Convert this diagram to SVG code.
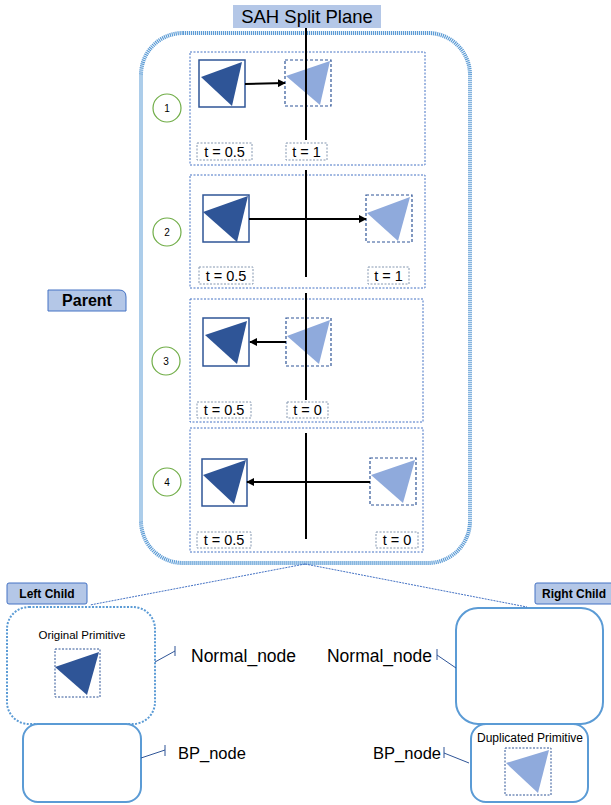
<svg xmlns="http://www.w3.org/2000/svg" width="611" height="805" viewBox="0 0 611 805">
<style>
text{font-family:"Liberation Sans",Arial,sans-serif;fill:#000}
.panel{fill:none;stroke:#4472c4;stroke-width:1;stroke-dasharray:2 1.5}
.dark{fill:#fff;stroke:#2f5597;stroke-width:1.5}
.ghost{fill:#fff;stroke:#2f5597;stroke-width:1.2;stroke-dasharray:3 2}
.dtri{fill:#2f5597}
.ltri{fill:#8faadc}
.tbox{fill:#fff;stroke:#8497b0;stroke-width:1;stroke-dasharray:2 1.5}
.tl{font-size:14.5px;text-anchor:middle}
.plane{stroke:#000;stroke-width:2}
.arr{stroke:#000;stroke-width:2;fill:none;marker-end:url(#ah)}
.num{fill:#fff;stroke:#70ad47;stroke-width:1.2}
.numt{font-size:10px;text-anchor:middle}
.lbl{fill:#b4c7e7;stroke:#4472c4;stroke-width:1}
.call{stroke:#2f5597;stroke-width:1;fill:none}
.box{fill:#fff;stroke:#5b9bd5;stroke-width:2}
</style>
<defs>
<marker id="ah" viewBox="0 0 10 10" refX="9" refY="5" markerWidth="4" markerHeight="4" orient="auto" markerUnits="strokeWidth">
<path d="M0,0 L10,5 L0,10 z" fill="#000"/>
</marker>
</defs>

<g id="parent">
<rect x="141" y="33" width="329" height="530" rx="42" ry="42" fill="#fff" stroke="#5b9bd5" stroke-width="4" stroke-dasharray="1.2 0.8"/>
</g>

<g id="sah-label">
<rect x="233" y="5" width="148" height="23" fill="#b4c7e7"/>
<text x="307" y="23" font-size="18.5" text-anchor="middle">SAH Split Plane</text>
</g>

<g id="parent-label">
<path d="M48,290 H119 Q126,290 126,297 V311 H48 Z" class="lbl"/>
<text x="87" y="306" font-size="16" font-weight="bold" text-anchor="middle">Parent</text>
</g>

<!-- Panel 1 -->
<g id="panel1">
<rect x="190" y="52" width="235" height="113" class="panel"/>
<circle cx="167" cy="108" r="14" class="num"/><text x="167" y="112" class="numt">1</text>
<rect x="199" y="60" width="46" height="47" class="dark"/>
<polygon points="201,77 242,62 232,106" class="dtri"/>
<rect x="285" y="60" width="46" height="46" class="ghost"/>
<polygon points="286,76 330,61 320,105" class="ltri"/>
<rect x="197" y="143" width="55" height="17" class="tbox"/><text x="224.5" y="157" class="tl">t = 0.5</text>
<rect x="286" y="143" width="41" height="17" class="tbox"/><text x="306.5" y="157" class="tl">t = 1</text>
</g>

<!-- Panel 2 -->
<g id="panel2">
<rect x="190" y="175" width="235" height="113" class="panel"/>
<circle cx="167" cy="232" r="14" class="num"/><text x="167" y="236" class="numt">2</text>
<rect x="203" y="195" width="46" height="47" class="dark"/>
<polygon points="203,212 248,196 237,242" class="dtri"/>
<rect x="366" y="195" width="46" height="47" class="ghost"/>
<polygon points="367,213 410,197 398,241" class="ltri"/>
<rect x="199" y="267" width="54" height="17" class="tbox"/><text x="226" y="281" class="tl">t = 0.5</text>
<rect x="368" y="267" width="41" height="17" class="tbox"/><text x="388.5" y="281" class="tl">t = 1</text>
</g>

<!-- Panel 3 -->
<g id="panel3">
<rect x="190" y="299" width="233" height="123" class="panel"/>
<circle cx="166" cy="361" r="14" class="num"/><text x="166" y="365" class="numt">3</text>
<rect x="203" y="318" width="46" height="48" class="dark"/>
<polygon points="205,335 247,321 237,364" class="dtri"/>
<rect x="286" y="318" width="45" height="48" class="ghost"/>
<polygon points="287,336 330,320 319,364" class="ltri"/>
<rect x="197" y="402" width="54" height="16" class="tbox"/><text x="224" y="415" class="tl">t = 0.5</text>
<rect x="287" y="402" width="41" height="16" class="tbox"/><text x="307.5" y="415" class="tl">t = 0</text>
</g>

<!-- Panel 4 -->
<g id="panel4">
<rect x="190" y="428" width="233" height="124" class="panel"/>
<circle cx="167" cy="482" r="14" class="num"/><text x="167" y="486" class="numt">4</text>
<rect x="202" y="459" width="45" height="47" class="dark"/>
<polygon points="203,475 246,460 234,504" class="dtri"/>
<rect x="370" y="458" width="46" height="47" class="ghost"/>
<polygon points="371,475 415,460 403,503" class="ltri"/>
<rect x="197" y="532" width="54" height="16" class="tbox"/><text x="224" y="545" class="tl">t = 0.5</text>
<rect x="376" y="532" width="42" height="16" class="tbox"/><text x="397" y="545" class="tl">t = 0</text>
</g>

<!-- Left child -->
<g id="left-child-label">
<rect x="7" y="583" width="80" height="21" rx="2" class="lbl"/>
<text x="47" y="598" font-size="12" font-weight="bold" text-anchor="middle">Left Child</text>
</g>
<g id="left-normal">
<rect x="7" y="607" width="148" height="117" rx="22" fill="#fff" stroke="#5b9bd5" stroke-width="2" stroke-dasharray="2 1.5"/>
<text x="82" y="639" font-size="11.5" text-anchor="middle">Original Primitive</text>
<rect x="55" y="649" width="45" height="48" fill="#fff" stroke="#2f5597" stroke-width="1" stroke-dasharray="2 1.5"/>
<polygon points="55,667 99,652 87,695" class="dtri"/>
</g>
<g id="left-bp">
<rect x="23" y="724" width="118" height="78" rx="15" class="box"/>
</g>

<!-- Right child -->
<g id="right-child-label">
<rect x="535" y="583" width="80" height="21" rx="2" class="lbl"/>
<text x="574" y="598" font-size="12" font-weight="bold" text-anchor="middle">Right Child</text>
</g>
<g id="right-normal">
<rect x="456" y="608" width="147" height="116" rx="22" class="box"/>
</g>
<g id="right-bp">
<rect x="471" y="724" width="117" height="78" rx="15" class="box"/>
<text x="530" y="742" font-size="12" text-anchor="middle">Duplicated Primitive</text>
<rect x="505" y="748" width="46" height="47" fill="#fff" stroke="#2f5597" stroke-width="1" stroke-dasharray="2 1.5"/>
<polygon points="506,763 549,750 538,793" class="ltri"/>
</g>

<g id="callout-texts">
<text x="191" y="662" font-size="17.5">Normal_node</text>
<text x="178" y="759" font-size="16.5">BP_node</text>
<text x="432" y="662" font-size="17.5" text-anchor="end">Normal_node</text>
<text x="441" y="759" font-size="16.5" text-anchor="end">BP_node</text>
</g>

<g id="connectors">
<line x1="306" y1="28" x2="306" y2="140" class="plane"/>
<line x1="306" y1="170" x2="306" y2="277" class="plane"/>
<line x1="306" y1="293" x2="306" y2="400" class="plane"/>
<line x1="306" y1="433" x2="306" y2="539" class="plane"/>
<line x1="245" y1="84" x2="285" y2="83" class="arr"/>
<line x1="249" y1="219" x2="366" y2="219" class="arr"/>
<line x1="286" y1="342" x2="250" y2="342" class="arr"/>
<line x1="370" y1="482" x2="247" y2="482" class="arr"/>
<line x1="305" y1="564" x2="90" y2="605" stroke="#4472c4" stroke-width="1" stroke-dasharray="2 1"/>
<line x1="305" y1="564" x2="527" y2="607" stroke="#4472c4" stroke-width="1" stroke-dasharray="2 1"/>
<polyline points="155,662 175,651" class="call"/><line x1="175" y1="646" x2="175" y2="656" class="call"/>
<polyline points="141,758 165,750" class="call"/><line x1="165" y1="745" x2="165" y2="756" class="call"/>
<polyline points="437,655 456,668" class="call"/><line x1="437" y1="649" x2="437" y2="660" class="call"/>
<polyline points="444,753 469,763" class="call"/><line x1="444" y1="747" x2="444" y2="758" class="call"/>
</g>
</svg>
